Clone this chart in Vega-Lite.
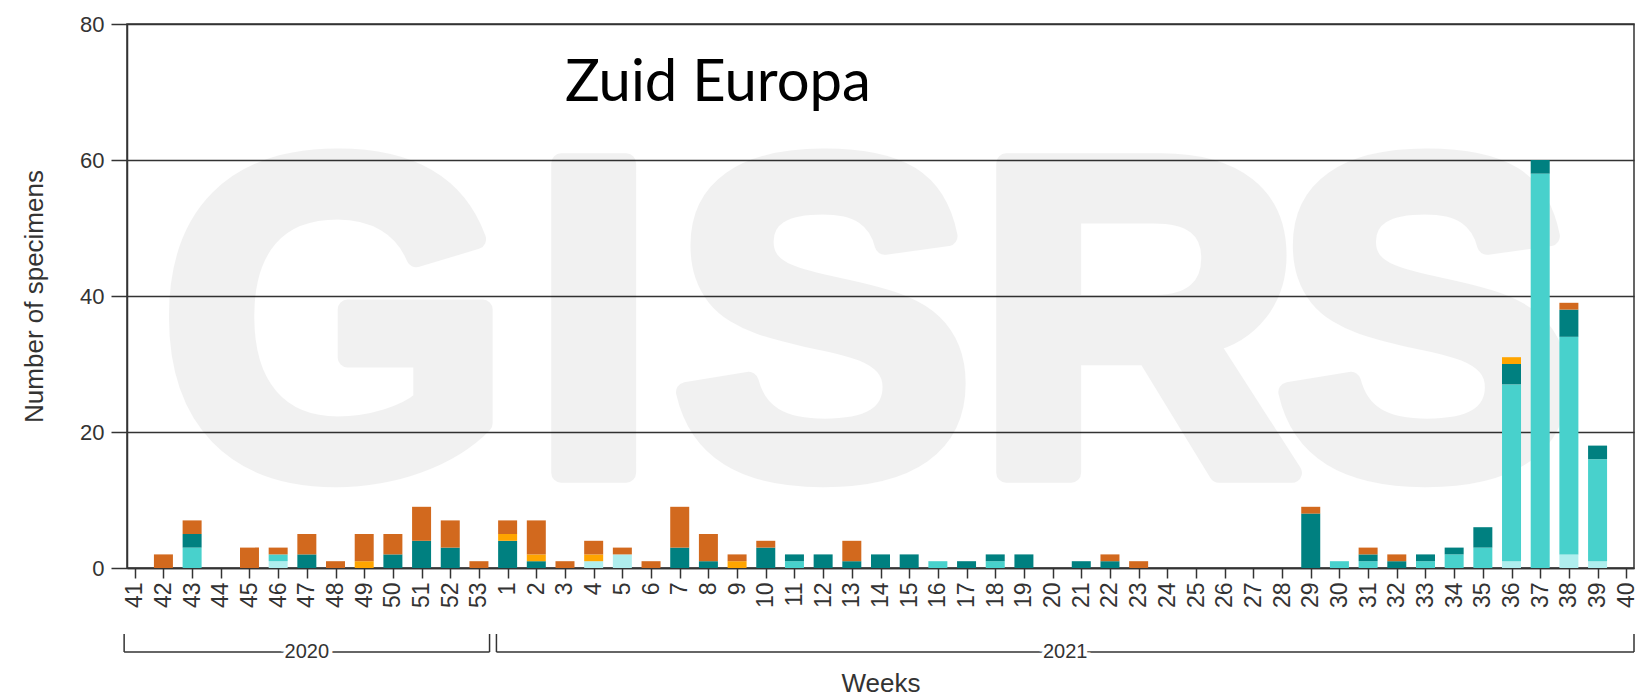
{
  "$schema": "https://vega.github.io/schema/vega-lite/v6.json",
  "padding": {"left": 20, "top": 12, "right": 3, "bottom": 0},
  "spacing": 24,
  "config": {
    "font": "Liberation Sans",
    "view": {"stroke": "#333", "strokeWidth": 1.5},
    "axis": {"labelColor": "#333", "titleColor": "#333", "domainColor": "#333", "tickColor": "#333", "titleFontWeight": "normal", "titleFont": "Liberation Sans", "labelFont": "Liberation Sans"}
  },
  "datasets": {
    "counts": [
      {"week": "42", "series": "B lineage not determined", "count": 2},
      {"week": "43", "series": "A(H3)", "count": 3},
      {"week": "43", "series": "A(not subtyped)", "count": 2},
      {"week": "43", "series": "B lineage not determined", "count": 2},
      {"week": "45", "series": "B lineage not determined", "count": 3},
      {"week": "46", "series": "A(H1N1)pdm09", "count": 1},
      {"week": "46", "series": "A(H3)", "count": 1},
      {"week": "46", "series": "B lineage not determined", "count": 1},
      {"week": "47", "series": "A(not subtyped)", "count": 2},
      {"week": "47", "series": "B lineage not determined", "count": 3},
      {"week": "48", "series": "B lineage not determined", "count": 1},
      {"week": "49", "series": "B Victoria", "count": 1},
      {"week": "49", "series": "B lineage not determined", "count": 4},
      {"week": "50", "series": "A(not subtyped)", "count": 2},
      {"week": "50", "series": "B lineage not determined", "count": 3},
      {"week": "51", "series": "A(not subtyped)", "count": 4},
      {"week": "51", "series": "B lineage not determined", "count": 5},
      {"week": "52", "series": "A(not subtyped)", "count": 3},
      {"week": "52", "series": "B lineage not determined", "count": 4},
      {"week": "53", "series": "B lineage not determined", "count": 1},
      {"week": "1", "series": "A(not subtyped)", "count": 4},
      {"week": "1", "series": "B Victoria", "count": 1},
      {"week": "1", "series": "B lineage not determined", "count": 2},
      {"week": "2", "series": "A(not subtyped)", "count": 1},
      {"week": "2", "series": "B Victoria", "count": 1},
      {"week": "2", "series": "B lineage not determined", "count": 5},
      {"week": "3", "series": "B lineage not determined", "count": 1},
      {"week": "4", "series": "A(H1N1)pdm09", "count": 1},
      {"week": "4", "series": "B Victoria", "count": 1},
      {"week": "4", "series": "B lineage not determined", "count": 2},
      {"week": "5", "series": "A(H1N1)pdm09", "count": 2},
      {"week": "5", "series": "B lineage not determined", "count": 1},
      {"week": "6", "series": "B lineage not determined", "count": 1},
      {"week": "7", "series": "A(not subtyped)", "count": 3},
      {"week": "7", "series": "B lineage not determined", "count": 6},
      {"week": "8", "series": "A(not subtyped)", "count": 1},
      {"week": "8", "series": "B lineage not determined", "count": 4},
      {"week": "9", "series": "B Victoria", "count": 1},
      {"week": "9", "series": "B lineage not determined", "count": 1},
      {"week": "10", "series": "A(not subtyped)", "count": 3},
      {"week": "10", "series": "B lineage not determined", "count": 1},
      {"week": "11", "series": "A(H3)", "count": 1},
      {"week": "11", "series": "A(not subtyped)", "count": 1},
      {"week": "12", "series": "A(not subtyped)", "count": 2},
      {"week": "13", "series": "A(not subtyped)", "count": 1},
      {"week": "13", "series": "B lineage not determined", "count": 3},
      {"week": "14", "series": "A(not subtyped)", "count": 2},
      {"week": "15", "series": "A(not subtyped)", "count": 2},
      {"week": "16", "series": "A(H3)", "count": 1},
      {"week": "17", "series": "A(not subtyped)", "count": 1},
      {"week": "18", "series": "A(H3)", "count": 1},
      {"week": "18", "series": "A(not subtyped)", "count": 1},
      {"week": "19", "series": "A(not subtyped)", "count": 2},
      {"week": "21", "series": "A(not subtyped)", "count": 1},
      {"week": "22", "series": "A(not subtyped)", "count": 1},
      {"week": "22", "series": "B lineage not determined", "count": 1},
      {"week": "23", "series": "B lineage not determined", "count": 1},
      {"week": "29", "series": "A(not subtyped)", "count": 8},
      {"week": "29", "series": "B lineage not determined", "count": 1},
      {"week": "30", "series": "A(H3)", "count": 1},
      {"week": "31", "series": "A(H3)", "count": 1},
      {"week": "31", "series": "A(not subtyped)", "count": 1},
      {"week": "31", "series": "B lineage not determined", "count": 1},
      {"week": "32", "series": "A(not subtyped)", "count": 1},
      {"week": "32", "series": "B lineage not determined", "count": 1},
      {"week": "33", "series": "A(H3)", "count": 1},
      {"week": "33", "series": "A(not subtyped)", "count": 1},
      {"week": "34", "series": "A(H3)", "count": 2},
      {"week": "34", "series": "A(not subtyped)", "count": 1},
      {"week": "35", "series": "A(H3)", "count": 3},
      {"week": "35", "series": "A(not subtyped)", "count": 3},
      {"week": "36", "series": "A(H1N1)pdm09", "count": 1},
      {"week": "36", "series": "A(H3)", "count": 26},
      {"week": "36", "series": "A(not subtyped)", "count": 3},
      {"week": "36", "series": "B Victoria", "count": 1},
      {"week": "37", "series": "A(H3)", "count": 58},
      {"week": "37", "series": "A(not subtyped)", "count": 2},
      {"week": "38", "series": "A(H1N1)pdm09", "count": 2},
      {"week": "38", "series": "A(H3)", "count": 32},
      {"week": "38", "series": "A(not subtyped)", "count": 4},
      {"week": "38", "series": "B lineage not determined", "count": 1},
      {"week": "39", "series": "A(H1N1)pdm09", "count": 1},
      {"week": "39", "series": "A(H3)", "count": 15},
      {"week": "39", "series": "A(not subtyped)", "count": 2}
    ],
    "watermark": [
      {"letter": "G", "week": "48", "y": 14},
      {"letter": "I", "week": "4", "y": 14},
      {"letter": "S", "week": "12", "y": 14},
      {"letter": "R", "week": "23", "y": 14},
      {"letter": "S", "week": "33", "y": 14}
    ],
    "label": [{"text": "Zuid Europa", "week": "3", "y": 68.7}],
    "brackets": [
      {"year": "2020", "start": 40.63, "end": 53.37, "mid": 47.0},
      {"year": "2021", "start": 53.61, "end": 93.27, "mid": 73.44}
    ]
  },
  "vconcat": [
    {
      "width": 1507,
      "height": 544,
      "encoding": {
        "x": {
          "field": "week",
          "type": "ordinal",
          "scale": {"type": "point", "padding": 0.27, "domain": ["41","42","43","44","45","46","47","48","49","50","51","52","53","1","2","3","4","5","6","7","8","9","10","11","12","13","14","15","16","17","18","19","20","21","22","23","24","25","26","27","28","29","30","31","32","33","34","35","36","37","38","39","40"]},
          "axis": {"title": null, "labelAngle": -90, "labelFontSize": 23, "labelPadding": 4, "tickSize": 10, "tickWidth": 1.5, "domainWidth": 1.5, "grid": false}
        }
      },
      "layer": [
        {
          "data": {"name": "watermark"},
          "mark": {"type": "text", "font": "Liberation Sans", "fontWeight": "bold", "fontSize": 450, "fill": "#000", "stroke": "#000", "strokeWidth": 20, "strokeJoin": "round", "opacity": 0.05, "baseline": "alphabetic", "align": "center"},
          "encoding": {
            "y": {"field": "y", "type": "quantitative", "title": "Number of specimens", "scale": {"domain": [0, 80], "nice": false}},
            "text": {"field": "letter"}
          }
        },
        {
          "data": {"name": "counts"},
          "mark": {"type": "bar", "width": 19},
          "encoding": {
            "y": {
              "field": "count", "type": "quantitative", "stack": "zero", "title": "Number of specimens",
              "scale": {"domain": [0, 80], "nice": false},
              "axis": {"values": [0, 20, 40, 60, 80], "grid": true, "gridColor": "#333", "gridWidth": 1.5, "tickSize": 16, "tickWidth": 1.5, "domainWidth": 1.5, "labelPadding": 7, "labelFontSize": 22, "titleFontSize": 26, "titlePadding": 32}
            },
            "order": {"field": "series", "sort": "ascending"},
            "color": {
              "field": "series", "type": "nominal", "legend": null,
              "scale": {"domain": ["A(H1N1)pdm09", "A(H3)", "A(not subtyped)", "B Victoria", "B lineage not determined"], "range": ["#AFEEEE", "#48D1CC", "#008080", "#FFA500", "#D2691E"]}
            }
          }
        },
        {
          "data": {"name": "label"},
          "mark": {"type": "text", "font": "Lato", "fontSize": 58, "align": "left", "baseline": "alphabetic", "color": "#000"},
          "encoding": {
            "y": {"field": "y", "type": "quantitative", "title": "Number of specimens"},
            "text": {"field": "text"}
          }
        }
      ]
    },
    {
      "width": 1507,
      "height": 18,
      "view": {"stroke": null},
      "data": {"name": "brackets"},
      "layer": [
        {
          "mark": {"type": "rule", "color": "#333", "strokeWidth": 1.5},
          "encoding": {
            "x": {"field": "start", "type": "quantitative", "title": "Weeks", "scale": {"domain": [40.73, 93.27], "nice": false, "zero": false},
                  "axis": {"domain": false, "ticks": false, "labels": false, "grid": false, "titleFontSize": 26, "titlePadding": 18}},
            "x2": {"field": "end"},
            "y": {"datum": 0, "type": "quantitative", "scale": {"domain": [0, 1]}, "axis": null}
          }
        },
        {
          "transform": [{"fold": ["start", "end"], "as": ["edge", "pos"]}],
          "mark": {"type": "rule", "color": "#333", "strokeWidth": 1.5},
          "encoding": {
            "x": {"field": "pos", "type": "quantitative", "title": "Weeks"},
            "y": {"datum": 0, "type": "quantitative"},
            "y2": {"datum": 1}
          }
        },
        {
          "mark": {"type": "text", "fontSize": 20, "fill": "white", "stroke": "white", "strokeWidth": 8},
          "encoding": {
            "x": {"field": "mid", "type": "quantitative", "title": "Weeks"},
            "y": {"datum": 0, "type": "quantitative"},
            "text": {"field": "year"}
          }
        },
        {
          "mark": {"type": "text", "fontSize": 20, "fill": "#333"},
          "encoding": {
            "x": {"field": "mid", "type": "quantitative", "title": "Weeks"},
            "y": {"datum": 0, "type": "quantitative"},
            "text": {"field": "year"}
          }
        }
      ]
    }
  ]
}
